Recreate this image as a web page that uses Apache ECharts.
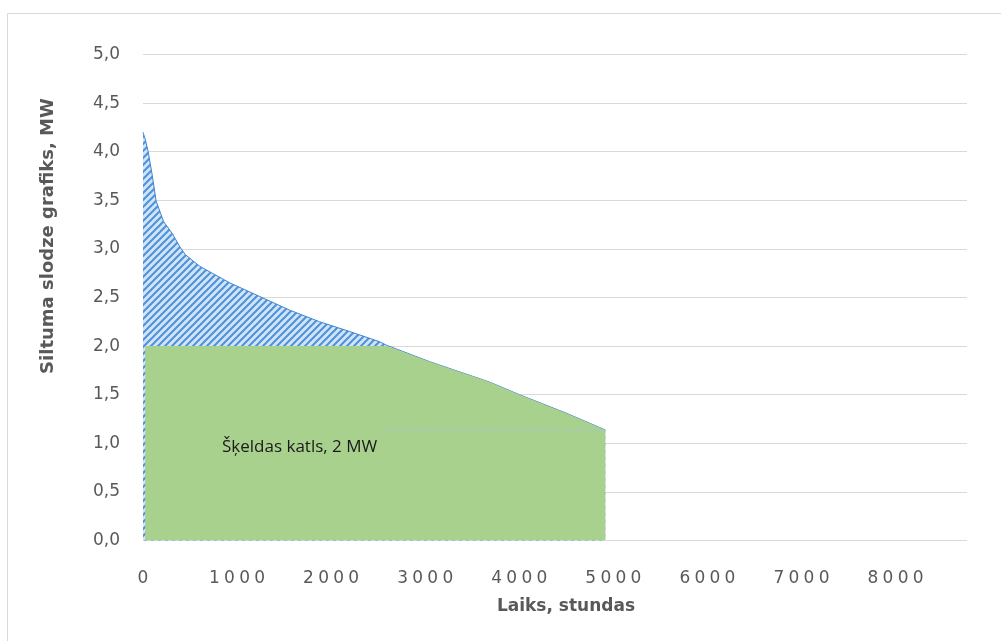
<!DOCTYPE html>
<html>
<head>
<meta charset="utf-8">
<script src="https://cdn.jsdelivr.net/npm/echarts@6/dist/echarts.min.js"></script>
<style>
html,body{margin:0;padding:0;background:#fff;}
#chart{width:1001px;height:641px;}
</style>
</head>
<body>
<div id="chart"></div>
<script>
// Heat load duration curve (hours, MW)
const loadHours = [0, 26, 55, 98, 140, 220, 310, 393, 451, 605, 924, 1242, 1560, 1879, 2197, 2516, 2587, 3047, 3684, 4002, 4500, 4915];
const loadValues = [4.20, 4.12, 4.00, 3.76, 3.49, 3.28, 3.16, 3.02, 2.94, 2.82, 2.65, 2.51, 2.37, 2.25, 2.15, 2.045, 2.01, 1.84, 1.63, 1.50, 1.31, 1.137];

// Wood chip boiler, 2 MW
const boilerHours = [23, 2600, 3047, 3684, 4002, 4500, 4915];
const boilerValues = [2.0, 2.0, 1.84, 1.63, 1.50, 1.31, 1.137];

// faint dashed line
const dashHours = [2600, 4915];
const dashValues = [1.137, 1.137];

const xTicks = [0, 1000, 2000, 3000, 4000, 5000, 6000, 7000, 8000];
const yTitle = 'Siltuma slodze grafiks, MW';
const xTitle = 'Laiks, stundas';
const boilerLabel = 'Šķeldas katls, 2 MW';

function zip(a, b) { return a.map((v, i) => [v, b[i]]); }

// hatch pattern
const pc = document.createElement('canvas');
pc.width = 7; pc.height = 7;
const px = pc.getContext('2d');
px.fillStyle = '#d2e4f7';
px.fillRect(0, 0, 7, 7);
px.strokeStyle = '#4d92da';
px.lineWidth = 2;
px.beginPath();
px.moveTo(-1, 8); px.lineTo(8, -1);
px.moveTo(-1, 1); px.lineTo(1, -1);
px.moveTo(6, 8); px.lineTo(8, 6);
px.stroke();

const chart = echarts.init(document.getElementById('chart'), null, {renderer: 'canvas'});
const labelFont = 'DejaVu Sans';
chart.setOption({
  animation: false,
  backgroundColor: '#ffffff',
  grid: {left: 143, right: 34, top: 54.5, bottom: 100.5, containLabel: false},
  xAxis: {
    type: 'value', min: 0, max: 8760, interval: 1000,
    axisLine: {show: false}, axisTick: {show: false}, splitLine: {show: false},
    axisLabel: {
      color: '#595959', fontSize: 17, fontFamily: labelFont, margin: 30,
      showMaxLabel: false,
      formatter: v => xTicks.indexOf(v) >= 0 ? String(v).split('').join('\u2005') : ''
    }
  },
  yAxis: {
    type: 'value', min: 0, max: 5, interval: 0.5,
    axisLine: {show: false}, axisTick: {show: false},
    splitLine: {show: true, lineStyle: {color: '#d9d9d9', width: 1}},
    axisLabel: {
      color: '#595959', fontSize: 17, fontFamily: labelFont, margin: 23,
      formatter: v => v.toFixed(1).replace('.', ',')
    }
  },
  series: [
    {
      type: 'line', data: zip(loadHours, loadValues), showSymbol: false, smooth: false,
      lineStyle: {color: '#3f86d3', width: 1},
      areaStyle: {color: {image: pc, repeat: 'repeat'}, opacity: 1},
      z: 2
    },
    {
      type: 'line', data: zip(boilerHours, boilerValues), showSymbol: false, smooth: false,
      lineStyle: {width: 0, color: '#a9d18e'},
      areaStyle: {color: '#a9d18e', opacity: 1},
      z: 3
    },
    {
      type: 'line', data: zip(dashHours, dashValues), showSymbol: false,
      lineStyle: {color: '#9cc3e8', width: 1, type: [4, 3]},
      z: 4
    }
  ],
  graphic: [
    {type: 'rect', shape: {x: 7.5, y: 13.5, width: 1100, height: 700}, style: {fill: 'none', stroke: '#d9d9d9', lineWidth: 1}, silent: true},
    {type: 'text', x: 48, y: 236, rotation: Math.PI / 2,
      style: {text: yTitle, fill: '#595959', font: 'bold 18px "DejaVu Sans"', align: 'center', verticalAlign: 'middle'}},
    {type: 'text', x: 566, y: 607,
      style: {text: xTitle, fill: '#595959', font: 'bold 17px "DejaVu Sans"', align: 'center', verticalAlign: 'middle'}},
    {type: 'text', x: 222, y: 447, z: 10,
      style: {text: boilerLabel, fill: '#1a1a1a', font: '17px "Open Sans"', align: 'left', verticalAlign: 'middle'}}
  ]
});
</script>
</body>
</html>
